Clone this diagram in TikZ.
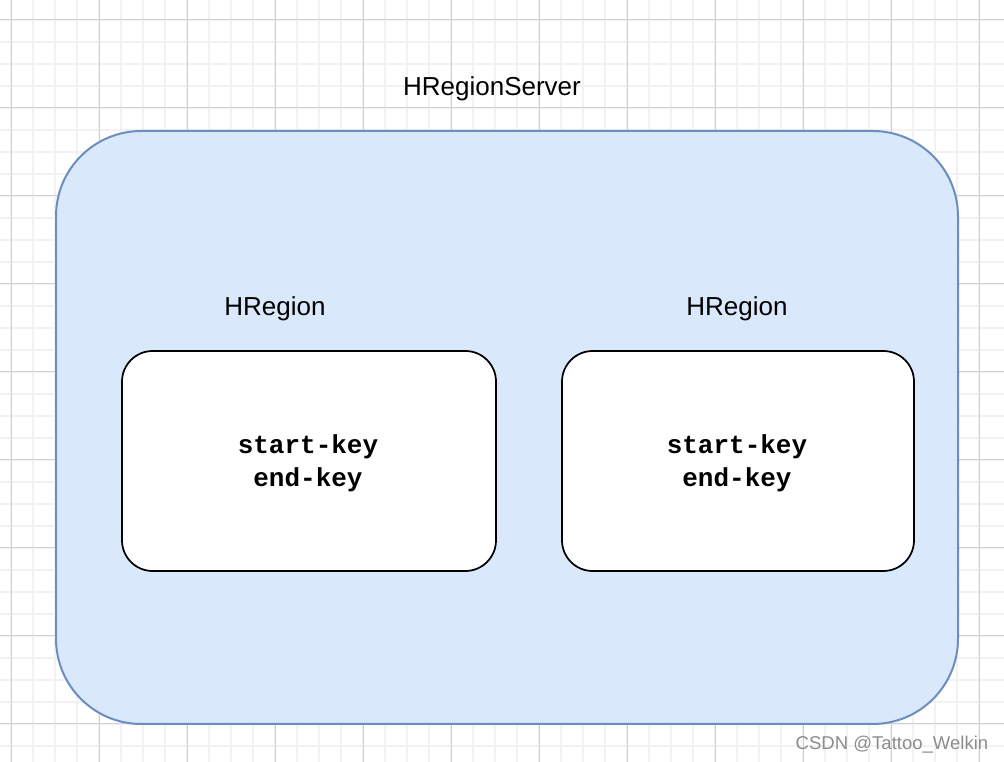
\documentclass[tikz,border=0pt]{standalone}
\usepackage{fontspec}
\setmainfont{Liberation Sans}
\setmonofont{Liberation Mono}
\usepackage{xcolor}
\usetikzlibrary{positioning}

\definecolor{serverfill}{HTML}{DAE8FC}
\definecolor{serverline}{HTML}{6C8EBF}
\definecolor{gridminor}{HTML}{F2F2F2}
\definecolor{gridmajor}{HTML}{D0D0D0}

\begin{document}
\begin{tikzpicture}[x=0.75pt, y=-0.75pt,
    serverbox/.style={draw=serverline, line width=1.5pt, fill=serverfill, rounded corners=64pt, minimum width=676.5pt, minimum height=444.75pt},
    regionbox/.style={draw=black, line width=1.3pt, fill=white, rounded corners=23pt, minimum height=165pt},
    keytext/.style={align=center, font=\fontsize{19.5}{24.5}\selectfont\ttfamily\bfseries},
    title/.style={font=\fontsize{19.5}{23}\selectfont}]
    \useasboundingbox (0,0) rectangle (1004,762);
    \fill[white] (0,0) rectangle (1004,762);

    % Grid
    \foreach \gx in {0,...,45} {\draw[gridminor, line width=1.2pt] (11+22*\gx-22,0) -- (11+22*\gx-22,762);}
    \foreach \gy in {0,...,35} {\draw[gridminor, line width=1.2pt] (0,-2+22*\gy) -- (1004,-2+22*\gy);}
    \foreach \gx in {0,...,11} {\draw[gridmajor, line width=0.75pt] (11+88*\gx,0) -- (11+88*\gx,762);}
    \foreach \gy in {0,...,8} {\draw[gridmajor, line width=0.75pt] (0,20+88*\gy) -- (1004,20+88*\gy);}

    % Region server
    \node[serverbox] (server) at (507,427.5) {};
    \node[title] (server_label) at (492,88.5) {HRegionServer};

    % Regions
    \node[regionbox, minimum width=280.5pt] (region_left) at (309,461) {};
    \node[regionbox, minimum width=264pt] (region_right) at (738,461) {};
    \node[keytext] (keys_left) at (308,463) {start-key\\end-key};
    \node[keytext] (keys_right) at (737,463) {start-key\\end-key};
    \node[title] (region_left_label) at (275,308.5) {HRegion};
    \node[title] (region_right_label) at (737,308.5) {HRegion};

    % Watermark
    \node[text=black!45, font=\fontsize{13.9}{16}\selectfont] (mark) at (892,745) {CSDN @Tattoo\_Welkin};
\end{tikzpicture}
\end{document}
